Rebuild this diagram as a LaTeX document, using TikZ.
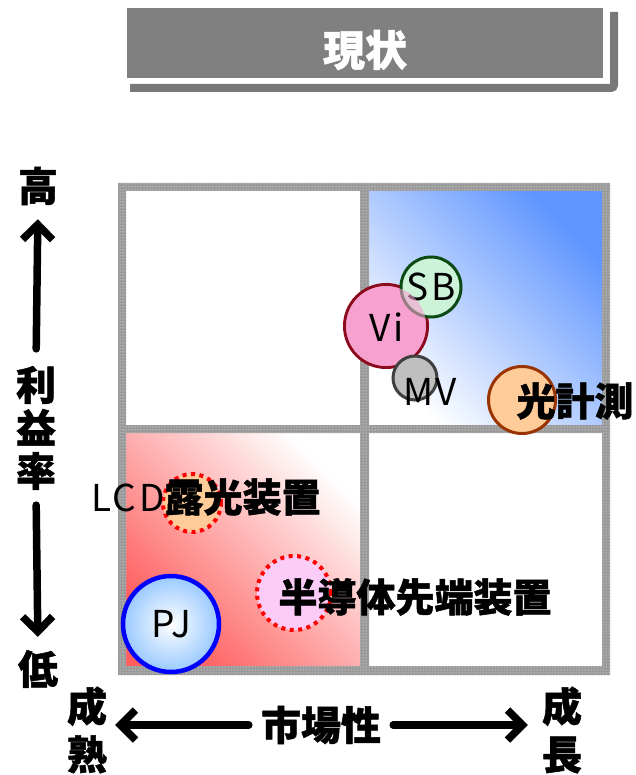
\documentclass[tikz,border=0pt]{standalone}
\usepackage{fontspec}
\setmainfont{Noto Sans CJK JP}[BoldFeatures={FakeBold=1.2}]
\newfontfamily\latfont{Noto Sans CJK JP}[LetterSpace=7]
\usepackage{tikz}
\usetikzlibrary{arrows.meta,patterns,positioning}
\definecolor{bannergray}{HTML}{808080}
\definecolor{shadowgray}{HTML}{787878}
\definecolor{framegray}{HTML}{999999}
\definecolor{quadblue}{HTML}{5F95FF}
\definecolor{quadred}{HTML}{FF5E5E}
\definecolor{sbfill}{HTML}{CCF2D8}
\definecolor{sbline}{HTML}{0B4A12}
\definecolor{vifill}{HTML}{F7A1D0}
\definecolor{viline}{HTML}{8C0A1E}
\definecolor{mvfill}{HTML}{BFBFBF}
\definecolor{mvline}{HTML}{404040}
\definecolor{orangefill}{HTML}{FFCC99}
\definecolor{orangeline}{HTML}{993300}
\definecolor{pinkfill}{HTML}{FCCCF8}
\definecolor{pjedge}{HTML}{99C9FF}
\definecolor{pjline}{HTML}{0000FF}

\begin{document}
\begin{tikzpicture}[x=1pt, y=-1pt,
    bubble/.style={circle, inner sep=0pt, line width=3pt},
    dotbubble/.style={circle, inner sep=0pt, draw=red, line width=4pt, dash pattern=on 4pt off 4.5pt},
    boldtxt/.style={inner sep=0pt, font=\fontsize{39}{43}\selectfont\bfseries},
    thintxt/.style={inner sep=0pt, font=\fontsize{37}{42}\selectfont\latfont},
    axistxt/.style={inner sep=0pt, align=center, font=\fontsize{40}{43}\selectfont\bfseries},
    axisarrow/.style={draw=black, line width=7.5pt, line cap=round, -{Straight Barb[length=15pt, width=30pt]}}]
    \useasboundingbox (0,0) rectangle (636,775);

    % Title
    \draw[shadowgray, line width=8pt, rounded corners=3pt] (614,12) -- (614,88) -- (130,88);
    \node[fill=bannergray, draw=white, line width=2pt, minimum width=478pt, minimum height=72pt, inner sep=0pt] (banner) at (365,43) {};
    \node[inner sep=0pt, text=white, font=\fontsize{42}{46}\selectfont\bfseries] (title) at (365,50) {現状};

    % Quadrants
    \shade[top color=quadblue, bottom color=white, shading angle=-45] (369,191) rectangle (602,425);
    \shade[top color=white, bottom color=quadred, shading angle=-45] (126,433) rectangle (360,666);
    \fill[framegray, even odd rule] (118,183) rectangle (610,675)
        (126,191) rectangle (360,425) (369,191) rectangle (602,425)
        (126,433) rectangle (360,666) (369,433) rectangle (602,666);
    \fill[pattern=dots, pattern color=white, even odd rule] (118,183) rectangle (610,675)
        (126,191) rectangle (360,425) (369,191) rectangle (602,425)
        (126,433) rectangle (360,666) (369,433) rectangle (602,666);

    % Upper right
    \node[bubble, draw=viline, fill=vifill, minimum size=83pt] (vi) at (386,326) {};
    \node[bubble, draw=sbline, fill=sbfill, minimum size=60pt, thintxt] (sb) at (431,287) {SB};
    \fill[vifill, fill opacity=0.6] (vi.center) circle[radius=40];
    \node[thintxt] (vitext) at (387,327) {Vi};
    \node[bubble, draw=mvline, fill=mvfill, minimum size=44pt] (mv) at (415,378) {};
    \node[thintxt] (mvtext) at (430,392) {MV};
    \node[bubble, draw=orangeline, fill=orangefill, minimum size=67pt] (opt) at (522,400) {};
    \node[boldtxt] (opttext) at (575,401) {光計測};

    % Lower left
    \node[dotbubble, fill=orangefill, minimum size=58pt] (lcd) at (192,503) {};
    \node[boldtxt] (lcdtext) at (206,497) {{\mdseries\fontsize{37}{42}\selectfont\latfont LCD}露光装置};
    \node[dotbubble, fill=pinkfill, minimum size=74pt] (semi) at (294,593) {};
    \node[boldtxt] (semitext) at (415,597) {半導体先端装置};
    \node[bubble, draw=pjline, line width=4.5pt, minimum size=96pt, inner color=white, outer color=pjedge, thintxt] (pj) at (171,624) {PJ};

    % Axes
    \node[axistxt] (high) at (38,186) {高};
    \node[axistxt] (rate) at (36,428) {利\\益\\率};
    \node[axistxt] (low) at (38,669) {低};
    \draw[axisarrow, shorten <=17pt, shorten >=14pt] (rate.north) -- (high.south);
    \draw[axisarrow, shorten <=15pt, shorten >=13pt] (rate.south) -- (low.north);

    \node[axistxt, font=\fontsize{40}{48}\selectfont\bfseries] (mature) at (87,730) {成\\熟};
    \node[axistxt, font=\fontsize{40}{48}\selectfont\bfseries] (growth) at (562,730) {成\\長};
    \node[axistxt] (market) at (321,725) {市場性};
    \draw[axisarrow, shorten <=12pt, shorten >=8pt] (market.west) -- (mature.east |- market.west);
    \draw[axisarrow, shorten <=12pt, shorten >=14pt] (market.east) -- (growth.west |- market.east);
\end{tikzpicture}
\end{document}
